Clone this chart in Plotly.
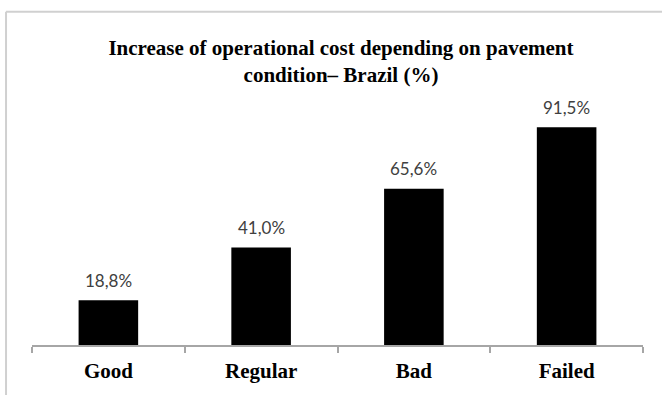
import plotly.graph_objects as go

categories = ["Good", "Regular", "Bad", "Failed"]
values = [18.8, 41.0, 65.6, 91.5]
value_labels = ["18,8%", "41,0%", "65,6%", "91,5%"]
title_text = "Increase of operational cost depending on pavement<br>condition– Brazil (%)"

fig = go.Figure()
fig.add_trace(go.Bar(
    x=categories,
    y=values,
    marker=dict(color="#000000", line=dict(width=0)),
    hoverinfo="skip",
))

for c, v, t in zip(categories, values, value_labels):
    fig.add_annotation(
        x=c, y=v, text=t, showarrow=False,
        xref="x", yref="y", yanchor="middle", yshift=20,
        font=dict(family="Lato", size=17, color="#404040"),
    )

# light grey frame around the chart area
fig.add_shape(
    type="line", xref="paper", yref="paper",
    x0=-0.0425, x1=-0.0425, y0=-0.3, y1=1.4,
    line=dict(color="#d0d0d0", width=2), layer="above",
)
fig.add_shape(
    type="line", xref="paper", yref="paper",
    x0=-0.0425, x1=1.1, y0=1.4, y1=1.4,
    line=dict(color="#d0d0d0", width=2), layer="above",
)

fig.update_layout(
    width=662, height=395,
    margin=dict(l=32, r=19, t=107, b=48, pad=0),
    paper_bgcolor="white", plot_bgcolor="white",
    bargap=0.61,
    showlegend=False,
    title=dict(
        text=title_text,
        x=0.5057, xref="paper", xanchor="center",
        y=0.862, yref="container", yanchor="top",
        font=dict(family="Liberation Serif", size=21, color="#000000", weight="bold"),
    ),
    xaxis=dict(
        type="category",
        showline=True, linecolor="#a6a6a6", linewidth=1.5,
        ticks="outside", tickson="boundaries", ticklen=6, tickcolor="#a6a6a6", tickwidth=1.5,
        tickfont=dict(family="Liberation Serif", size=21, color="#000000", weight="bold"),
        showgrid=False, zeroline=False,
        ticklabelstandoff=6,
    ),
    yaxis=dict(
        range=[0, 100], visible=False, showgrid=False, zeroline=False,
    ),
)

fig.write_html("out.html")
